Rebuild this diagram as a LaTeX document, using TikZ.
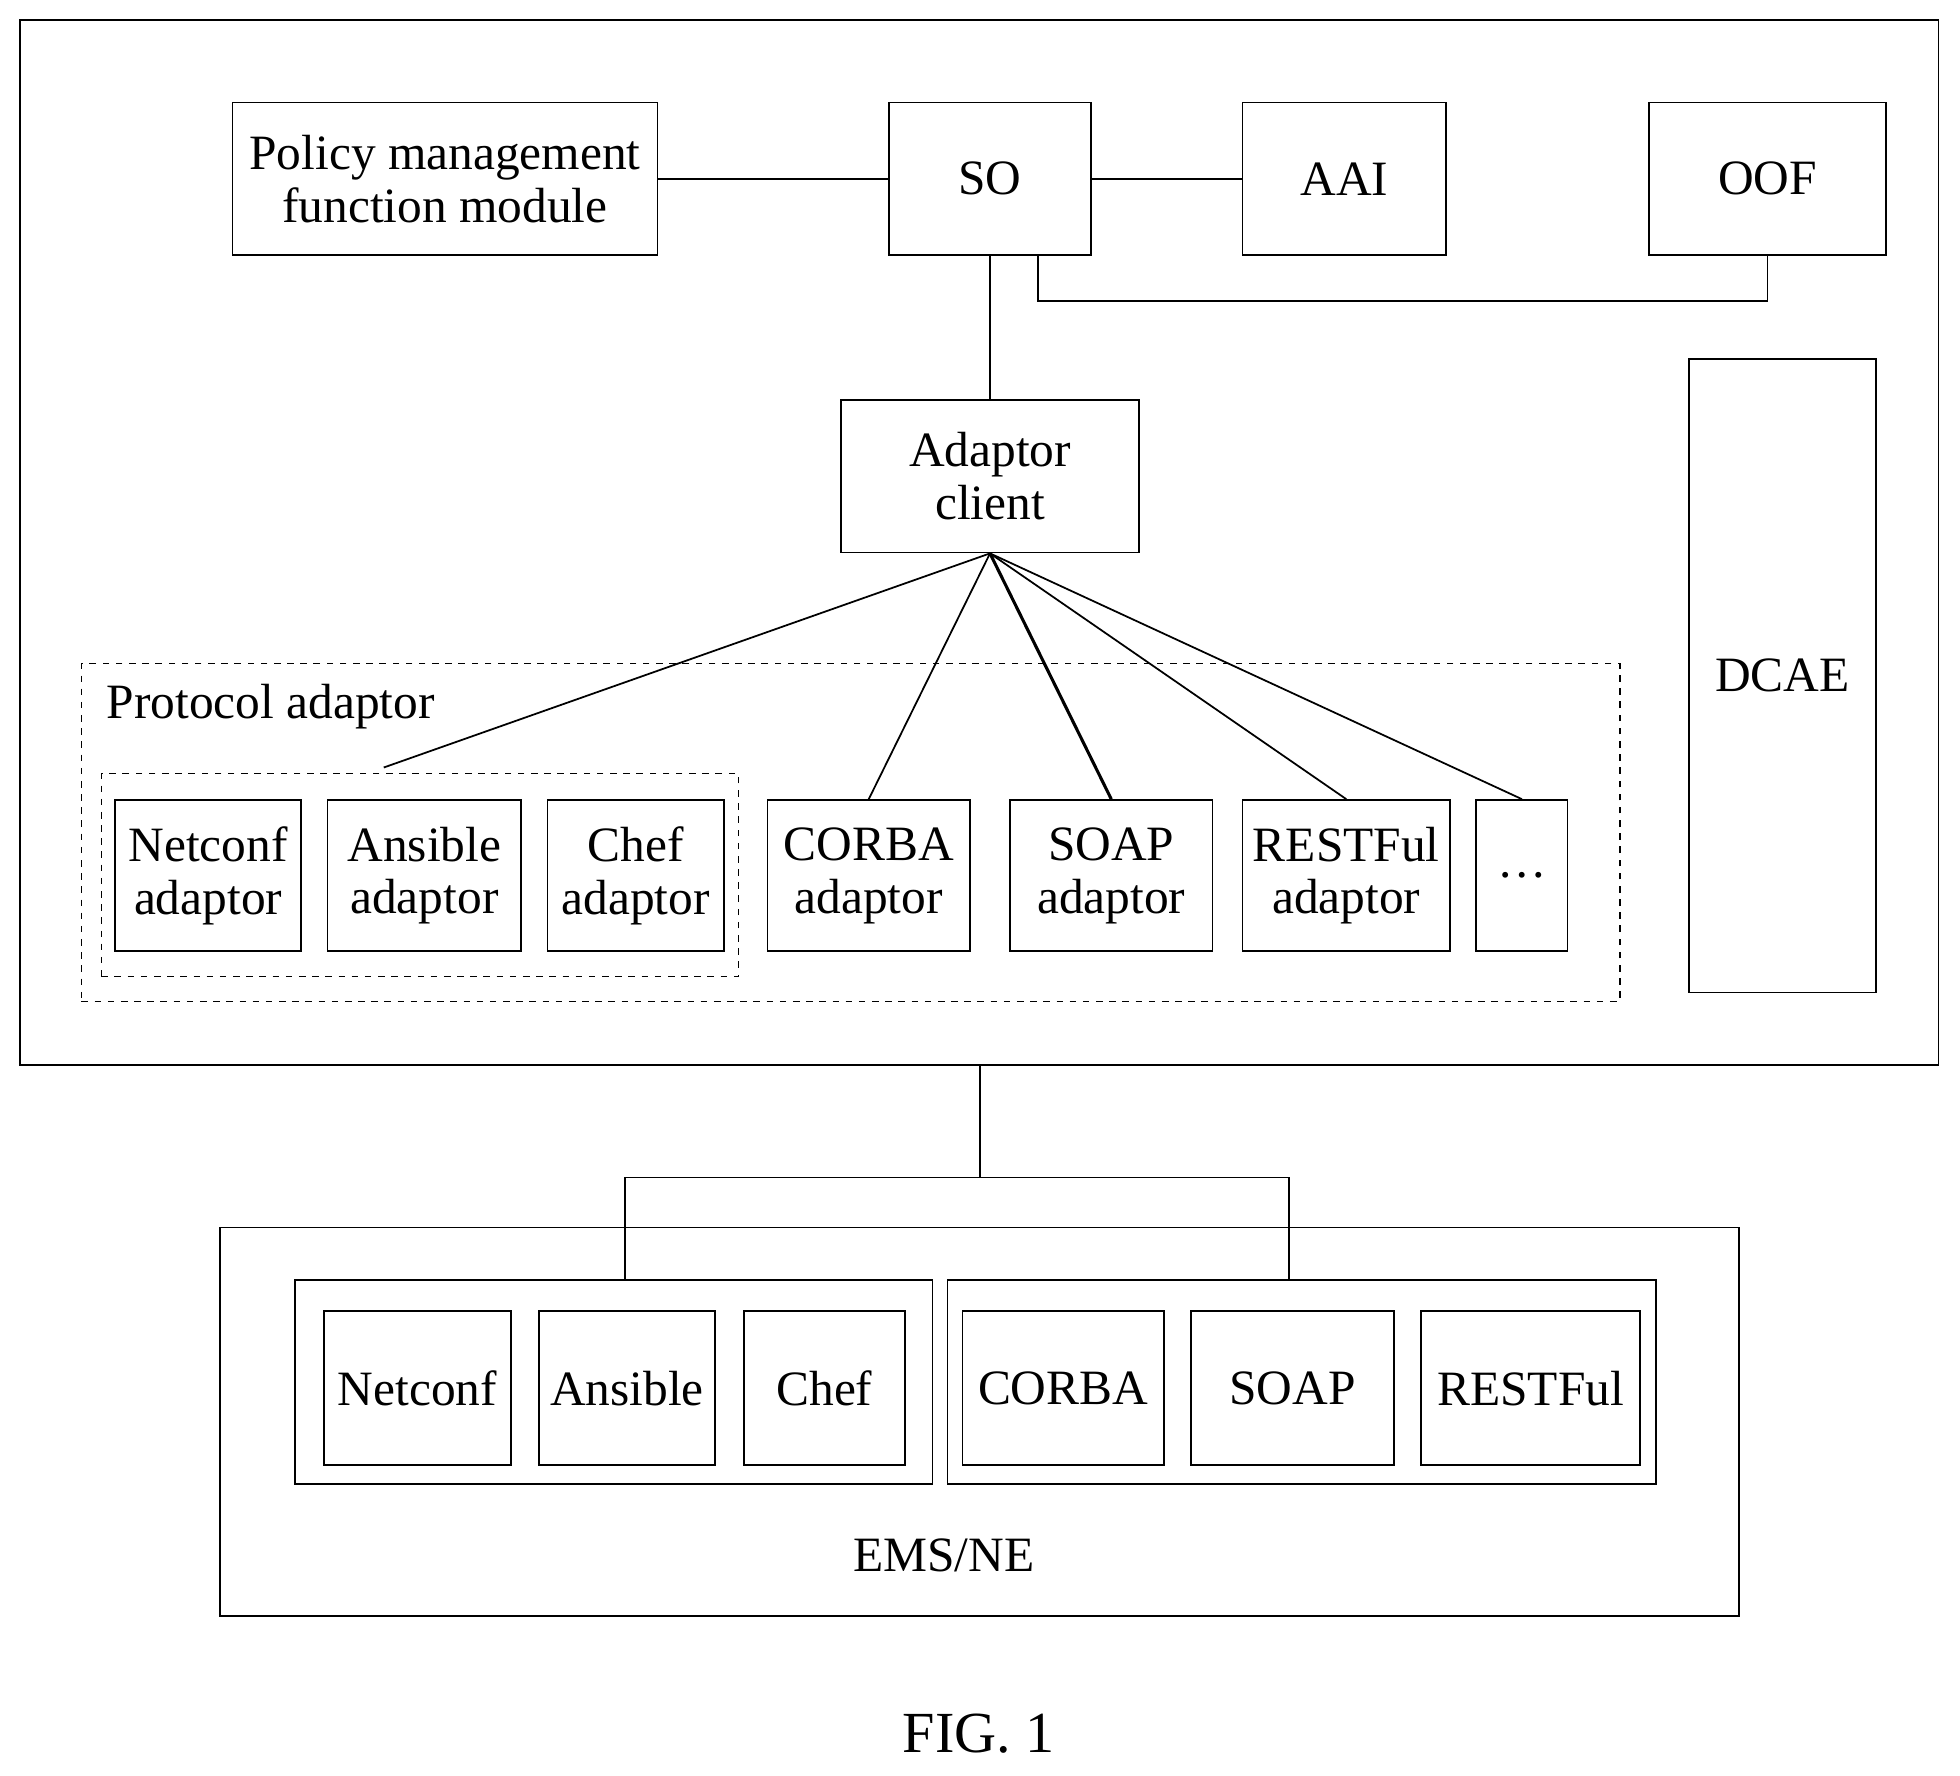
\documentclass[tikz,border=0pt]{standalone}
\usepackage{fontspec}
\setmainfont{Liberation Serif}
\begin{document}
\begin{tikzpicture}[x=0.02cm,y=-0.02cm,
  bx/.style={draw,line width=0.8pt,align=center,font=\fontsize{22.5}{24}\selectfont,inner sep=0pt},
  ln/.style={line width=0.8pt}]
\useasboundingbox (0,0) rectangle (1568,1420);
\newcommand{\bxat}[6]{\node[bx,minimum width={(#4-#2)*0.02cm},minimum height={(#5-#3)*0.02cm}] (#1) at ({(#2+#4)/2},{(#3+#5)/2}) {#6};}
\node[draw,line width=0.8pt,minimum width=30.7cm,minimum height=16.72cm] (outer) at (783.5,434) {};
\bxat{pol}{186}{82}{526}{204}{Policy management\\function module}
\bxat{so}{711}{82}{873}{204}{SO}
\bxat{aai}{994}{82}{1157}{204}{AAI}
\bxat{oof}{1319}{82}{1509}{204}{OOF}
\bxat{ac}{673}{320}{911}{442}{Adaptor\\client}
\bxat{dcae}{1351}{287}{1501}{794}{DCAE}
\draw[ln] (pol.east) -- (so.west);
\draw[ln] (so.east) -- (aai.west);
\draw[ln] (so.south west)++(120,0) coordinate (s1) -- ++(0,36) -| (oof.south);
\draw[ln] (so.south) -- (ac.north);
\node[draw,dashed,line width=0.6pt,minimum width=24.62cm,minimum height=5.4cm] (pa) at (680.5,666) {};
\node[anchor=west,font=\fontsize{22.5}{24}\selectfont,inner sep=0pt] (pal) at (85,565) {Protocol adaptor};
\node[draw,dashed,line width=0.6pt,minimum width=10.2cm,minimum height=3.24cm] (ig) at (336,700) {};
\bxat{na}{92}{640}{241}{761}{Netconf\\adaptor}
\bxat{aa}{262}{640}{417}{761}{Ansible\\adaptor}
\bxat{ca}{438}{640}{579}{761}{Chef\\adaptor}
\bxat{cba}{614}{640}{776}{761}{CORBA\\adaptor}
\bxat{sa}{808}{640}{970}{761}{SOAP\\adaptor}
\bxat{ra}{994}{640}{1160}{761}{RESTFul\\adaptor}
\bxat{da}{1181}{640}{1254}{761}{\ldots}
\coordinate (igt) at (307,614);
\draw[ln] (ac.south) -- (igt);
\draw[ln] (ac.south) -- (cba.north);
\draw[line width=1.4pt] (ac.south) -- (sa.north);
\draw[ln] (ac.south) -- (ra.north);
\draw[ln] (ac.south) -- (da.north);
\node[draw,line width=0.8pt,minimum width=24.3cm,minimum height=6.22cm] (ems) at (783.5,1137.5) {};
\node[draw,line width=0.8pt,minimum width=10.2cm,minimum height=3.26cm] (lg) at (491,1105.5) {};
\node[draw,line width=0.8pt,minimum width=11.34cm,minimum height=3.26cm] (rg) at (1041.5,1105.5) {};
\bxat{n}{259}{1049}{409}{1172}{Netconf}
\bxat{a}{431}{1049}{572}{1172}{Ansible}
\bxat{c}{595}{1049}{724}{1172}{Chef}
\bxat{cb}{770}{1049}{931}{1172}{CORBA}
\bxat{s}{953}{1049}{1115}{1172}{SOAP}
\bxat{r}{1137}{1049}{1312}{1172}{RESTFul}
\node[font=\fontsize{22.5}{24}\selectfont] (emsl) at (755,1244) {EMS/NE};
\coordinate (ob) at (784,852);
\coordinate (jn) at (784,942);
\coordinate (lt) at (500,1024);
\coordinate (rt) at (1031,1024);
\draw[ln] (ob) -- (jn);
\draw[ln] (lt) |- (jn) -| (rt);
\node[font=\fontsize{26.5}{28}\selectfont] (fig) at (783,1387) {FIG. 1};
\end{tikzpicture}
\end{document}
